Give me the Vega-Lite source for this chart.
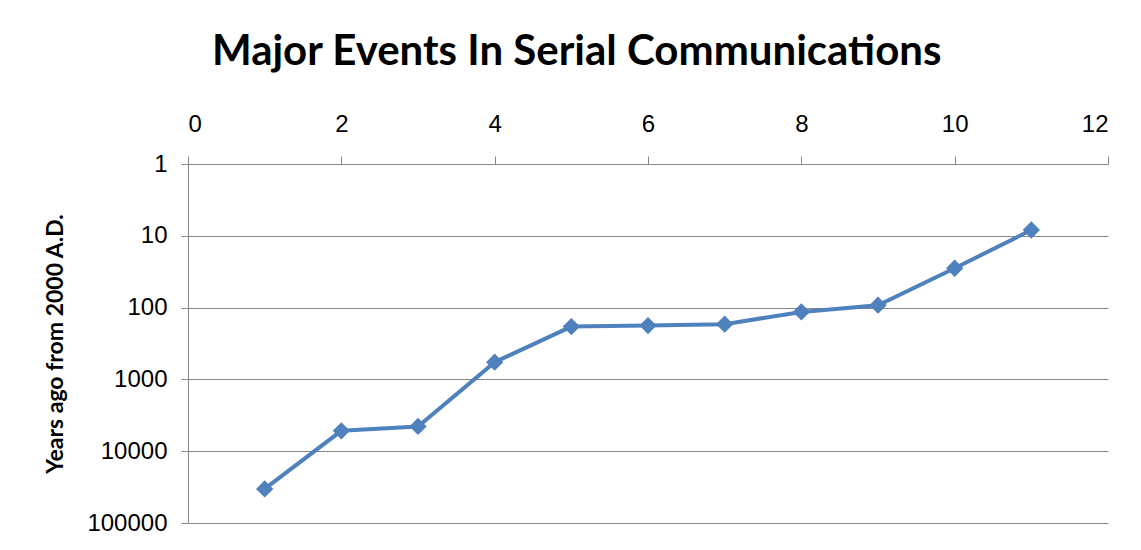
{
  "$schema": "https://vega.github.io/schema/vega-lite/v6.json",
  "autosize": "none",
  "padding": {"left": 188, "top": 164, "right": 33, "bottom": 27},
  "width": 920,
  "height": 359,
  "background": "white",
  "title": {
    "text": "Major Events In Serial Communications",
    "font": "Lato",
    "fontWeight": "bold",
    "fontSize": 42,
    "color": "#000000",
    "anchor": "middle",
    "frame": "bounds",
    "offset": 38
  },
  "data": {
    "values": [
      {"event": 1, "years": 33500},
      {"event": 2, "years": 5200},
      {"event": 3, "years": 4520},
      {"event": 4, "years": 575},
      {"event": 5, "years": 184},
      {"event": 6, "years": 178},
      {"event": 7, "years": 170},
      {"event": 8, "years": 115},
      {"event": 9, "years": 92.6},
      {"event": 10, "years": 28.3},
      {"event": 11, "years": 8.3}
    ]
  },
  "config": {
    "view": {"stroke": null},
    "axis": {
      "labelFont": "Liberation Sans",
      "labelFontSize": 24,
      "labelColor": "#000000",
      "domainColor": "#868686",
      "tickColor": "#868686",
      "gridColor": "#868686",
      "gridOpacity": 1,
      "domainWidth": 1,
      "tickWidth": 1,
      "gridWidth": 1
    }
  },
  "mark": {"type": "line", "color": "#4F81BD", "strokeWidth": 4, "point": {"shape": "diamond", "size": 300, "filled": true, "color": "#4F81BD", "opacity": 1}},
  "encoding": {
    "x": {
      "field": "event",
      "type": "quantitative",
      "scale": {"domain": [0, 12], "nice": false, "zero": false},
      "axis": {
        "orient": "top",
        "values": [0, 2, 4, 6, 8, 10, 12],
        "title": null,
        "grid": false,
        "tickSize": 8,
        "labelPadding": 20,
        "domain": true
      }
    },
    "y": {
      "field": "years",
      "type": "quantitative",
      "scale": {"type": "log", "domain": [1, 100000], "reverse": true, "nice": false},
      "axis": {
        "values": [1, 10, 100, 1000, 10000, 100000],
        "format": "d",
        "title": "Years ago from 2000 A.D.",
        "titleFont": "Lato",
        "titleFontWeight": "bold",
        "titleFontSize": 23,
        "titleColor": "#000000",
        "titlePadding": 19,
        "tickSize": 7,
        "labelPadding": 14,
        "grid": true
      }
    }
  }
}
